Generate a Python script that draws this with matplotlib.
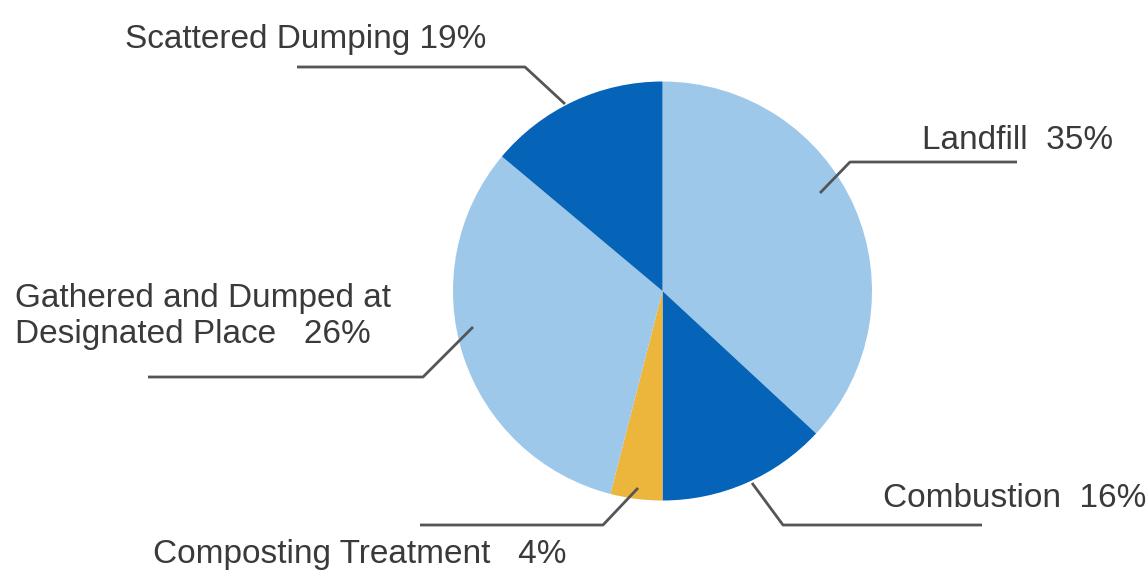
import matplotlib
matplotlib.use("Agg")
import matplotlib.pyplot as plt

# ---- data (wedge shares as drawn in the picture; label text as printed) ----
categories = ["Landfill", "Combustion", "Composting Treatment",
              "Gathered and Dumped at Designated Place", "Scattered Dumping"]
shares = [36.9, 13.1, 4.0, 32.1, 13.9]
label_texts = ["Landfill  35%", "Combustion  16%", "Composting Treatment   4%",
               "Gathered and Dumped at\nDesignated Place   26%", "Scattered Dumping 19%"]
colors = ["#9dc8ea", "#0563b8", "#ecb53c", "#9dc8ea", "#0563b8"]

W, H = 1147, 574
fig = plt.figure(figsize=(W / 100, H / 100), dpi=100)
ax = fig.add_axes([0, 0, 1, 1])
ax.set_xlim(0, W)
ax.set_ylim(0, H)
ax.set_aspect("equal")
ax.axis("off")

def py(y):
    return H - y

cx, cy, R = 662.5, 291, 209.5
ax.pie(shares, colors=colors, startangle=90, counterclock=False,
       center=(cx, py(cy)), radius=R, frame=True,
       wedgeprops=dict(linewidth=0))
ax.set_xlim(0, W)
ax.set_ylim(0, H)
ax.axis("off")

# leader lines (pixel layout, top-left origin): inner point -> elbow -> outer end
leaders = [
    [(820, 193), (850, 162), (1017, 162)],
    [(752, 483), (783, 525), (982, 525)],
    [(638, 488), (603, 525), (420, 525)],
    [(473, 327), (423, 377), (148, 377)],
    [(565, 104), (525, 67), (297, 67)],
]
for pts in leaders:
    xs = [p[0] for p in pts]
    ys = [py(p[1]) for p in pts]
    ax.plot(xs, ys, color="#555555", lw=2.0, solid_capstyle="butt")

# label text positions (left x, baseline y of last line)
text_pos = [(922, 149), (883, 507), (153, 563), (15, 343), (125, 48)]
for txt, (x, y) in zip(label_texts, text_pos):
    ax.text(x, py(y), txt, ha="left", va="baseline", fontsize=24,
            color="#3a3a3a", family="Liberation Sans", linespacing=1.2)

fig.savefig("out.png", dpi=100)
